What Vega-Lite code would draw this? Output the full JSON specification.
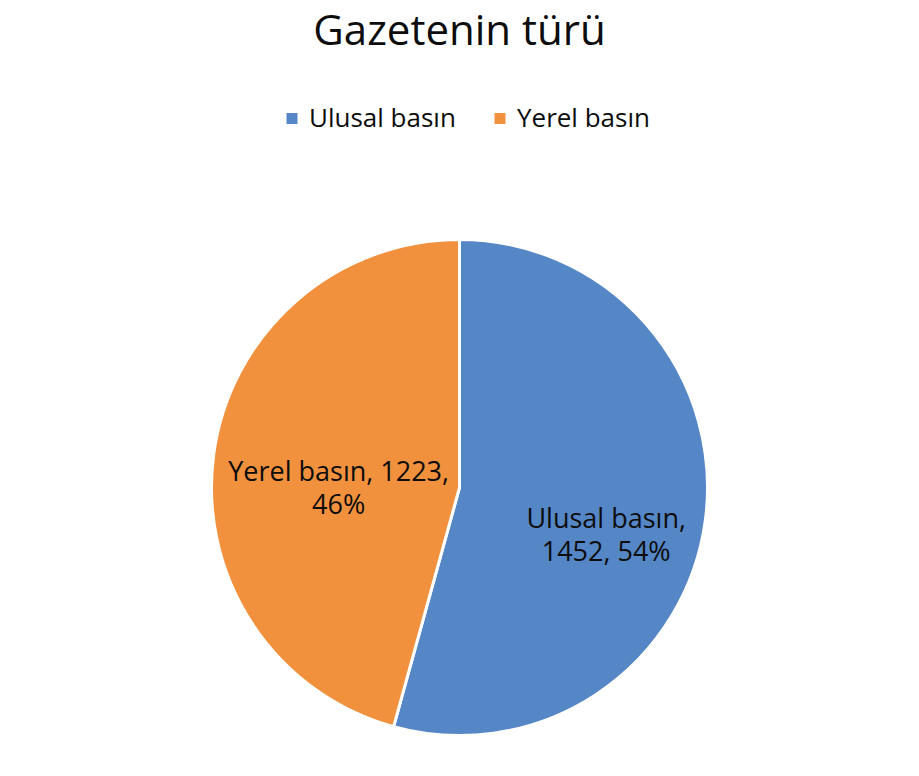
{
  "$schema": "https://vega.github.io/schema/vega-lite/v6.json",
  "width": 919,
  "height": 776,
  "autosize": {"type": "fit", "contains": "padding"},
  "padding": {"top": 11, "left": 0, "right": 0, "bottom": 0},
  "background": "white",
  "title": {
    "text": "Gazetenin türü",
    "font": "Open Sans",
    "fontSize": 42,
    "fontWeight": "normal",
    "color": "#0d0d0d",
    "anchor": "middle",
    "offset": 145
  },
  "data": {
    "values": [
      {"category": "Ulusal basın", "count": 1452, "label": "Ulusal basın,\n1452, 54%"},
      {"category": "Yerel basın", "count": 1223, "label": "Yerel basın, 1223,\n46%"}
    ]
  },
  "encoding": {
    "theta": {"field": "count", "type": "quantitative", "stack": true},
    "order": {"field": "category", "type": "ordinal", "sort": "ascending"}
  },
  "layer": [
    {
      "mark": {"type": "arc", "outerRadius": 248, "stroke": "white", "strokeWidth": 3},
      "encoding": {
        "color": {
          "field": "category",
          "type": "nominal",
          "scale": {"domain": ["Ulusal basın", "Yerel basın"], "range": ["#5586c6", "#f1913e"]},
          "legend": {
            "title": null,
            "orient": "none",
            "legendX": 279,
            "legendY": -93.5,
            "direction": "horizontal",
            "symbolType": "square",
            "symbolSize": 121,
            "symbolStrokeWidth": 0,
            "labelFont": "Open Sans",
            "labelFontSize": 26,
            "labelColor": "#0d0d0d",
            "labelOffset": 4,
            "labelLimit": 300,
            "columnPadding": 31,
            "padding": 0
          }
        }
      }
    },
    {
      "mark": {
        "type": "text",
        "radius": {"expr": "datum.category === 'Ulusal basın' ? 148 : 122"},
        "dy": {"expr": "datum.category === 'Ulusal basın' ? 13 : 2"},
        "font": "Open Sans",
        "fontSize": 27,
        "lineBreak": "\n",
        "lineHeight": 33,
        "align": "center",
        "baseline": "middle",
        "color": "#0d0d0d"
      },
      "encoding": {
        "text": {"field": "label"}
      }
    }
  ],
  "config": {"view": {"stroke": null}}
}
